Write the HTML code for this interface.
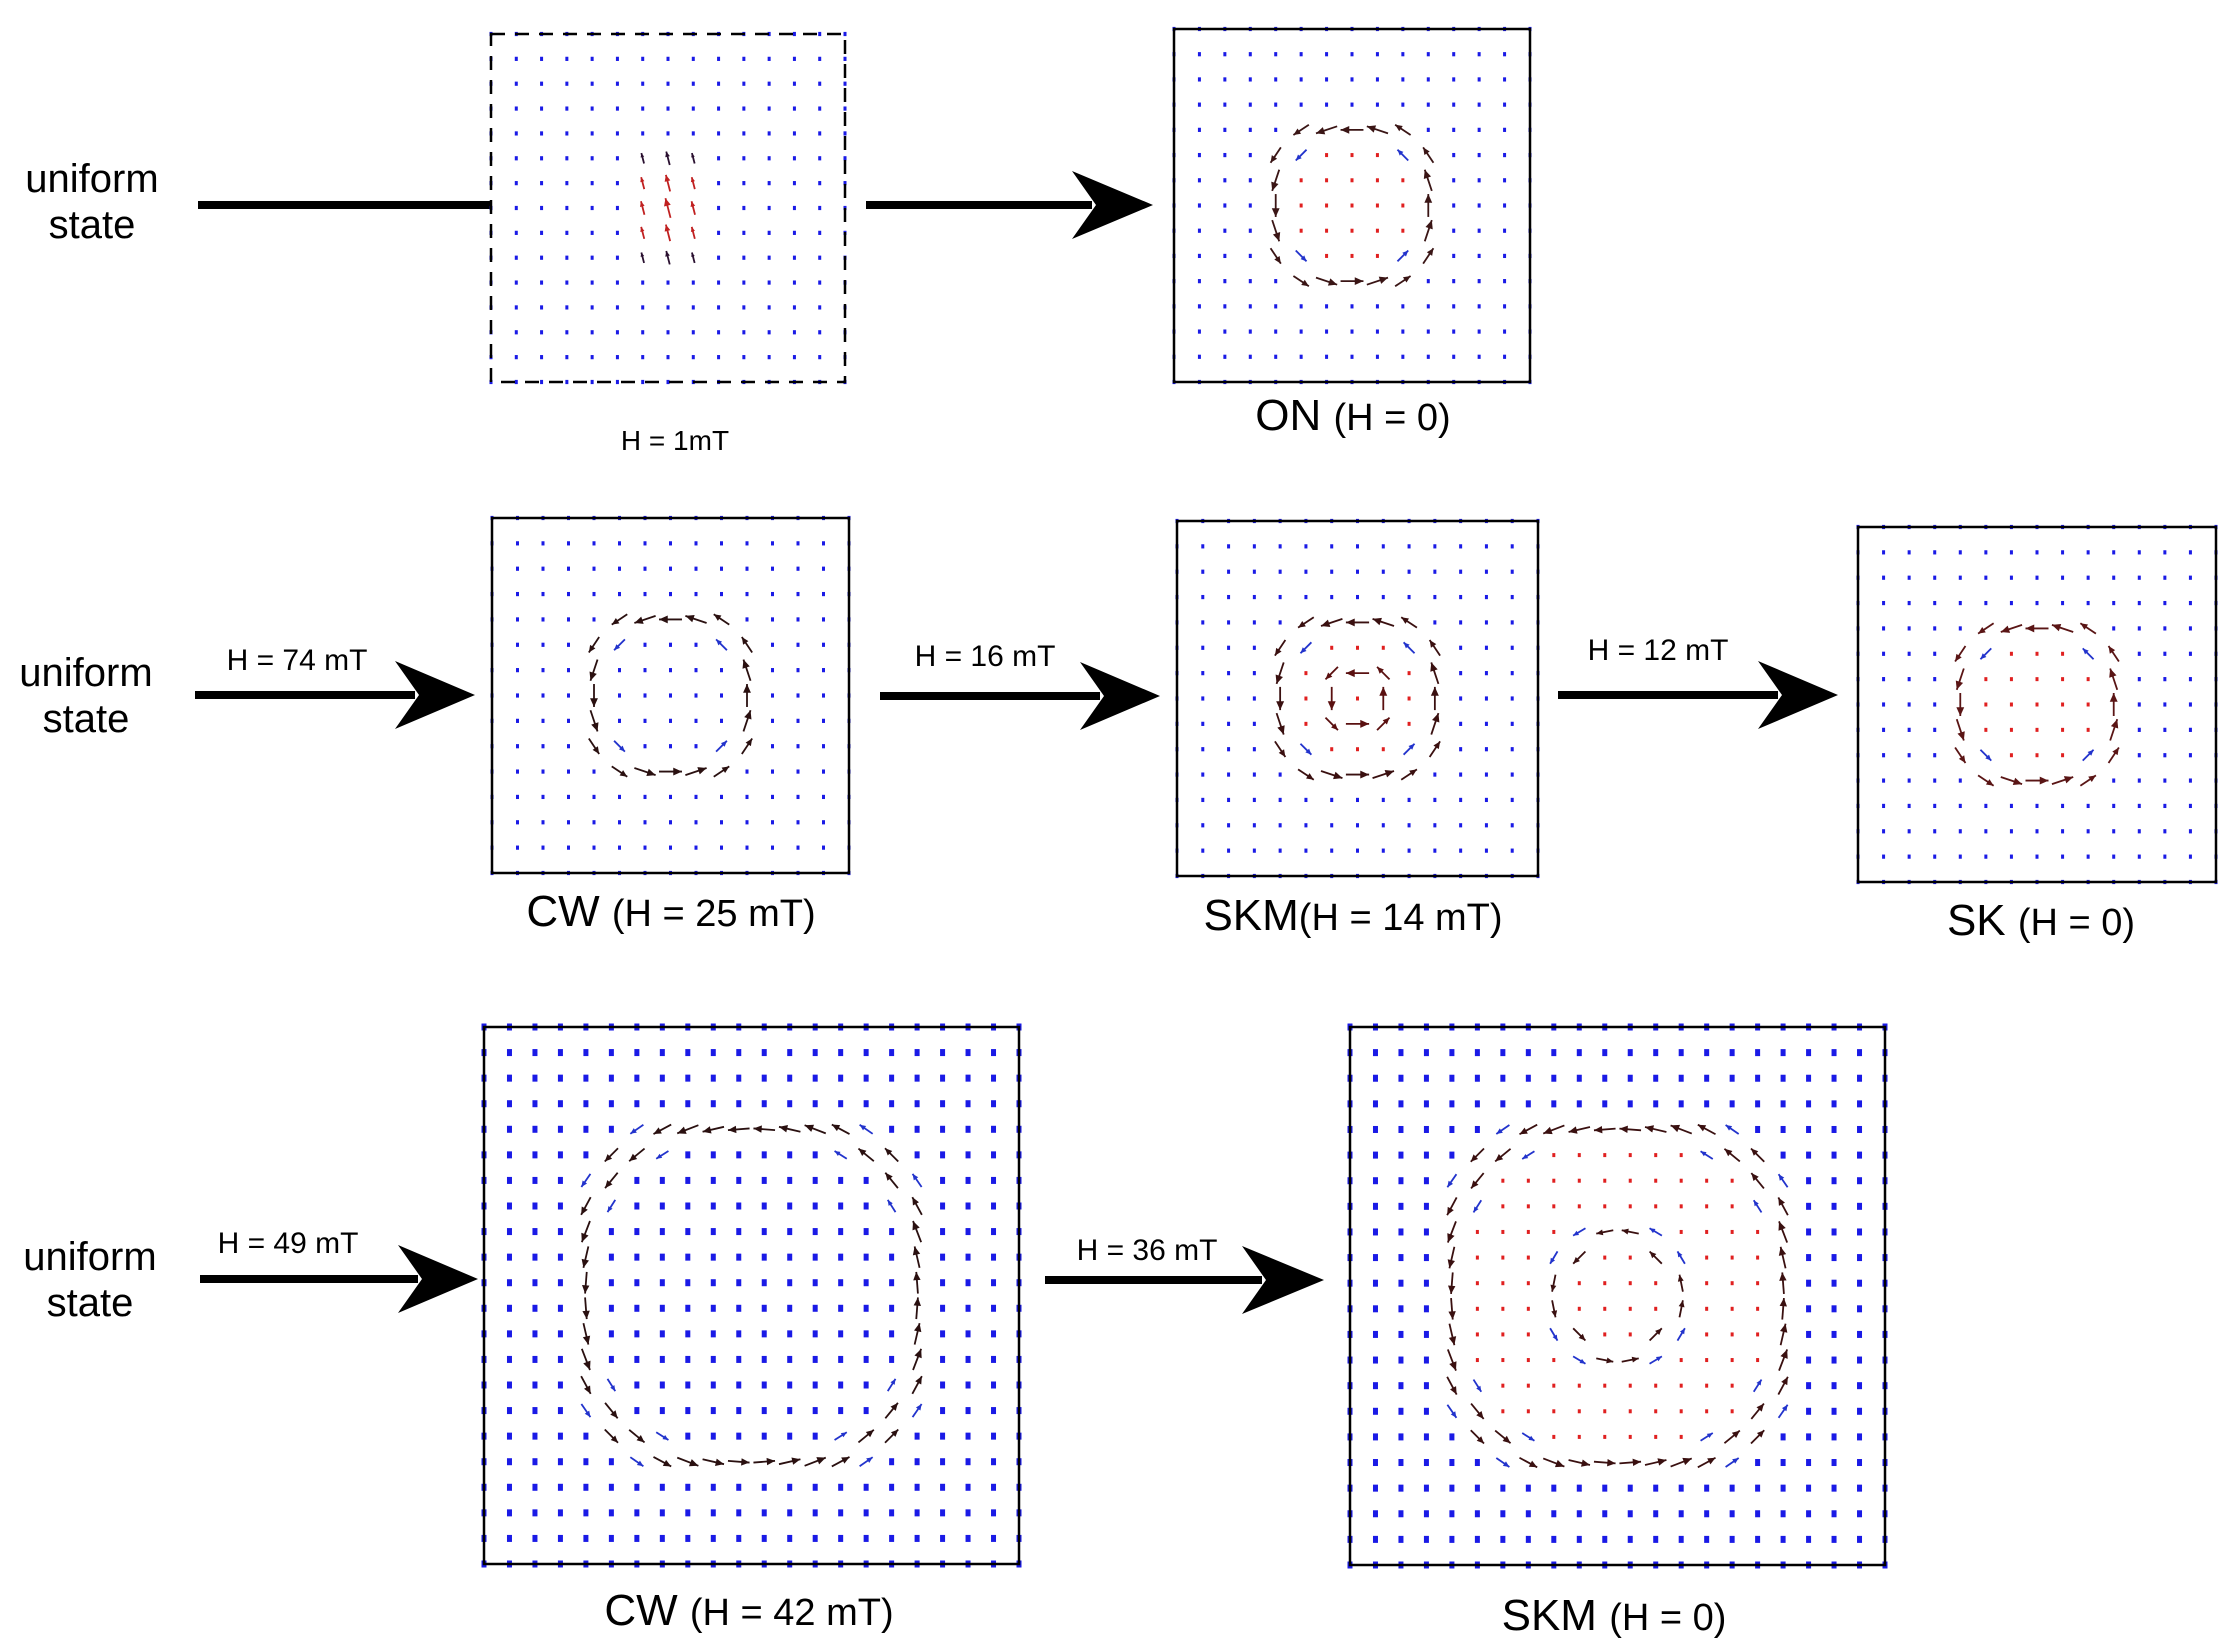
<!DOCTYPE html>
<html><head><meta charset="utf-8">
<style>
html,body{margin:0;padding:0;background:#fff;}
body{width:2226px;height:1641px;overflow:hidden;position:relative;font-family:"Liberation Sans",sans-serif;}
svg{position:absolute;left:0;top:0;}
</style></head>
<body>
<svg id="s" width="2226" height="1641" viewBox="0 0 2226 1641" xmlns="http://www.w3.org/2000/svg" font-family="Liberation Sans, sans-serif">
<g id="g"></g>
<g fill="#000" text-anchor="middle">
<text x="92" y="192" font-size="40">uniform</text>
<text x="92" y="238" font-size="40">state</text>
<text x="675" y="450" font-size="28">H = 1mT</text>
<text x="1353" y="430" font-size="44">ON <tspan font-size="38">(H = 0)</tspan></text>

<text x="86" y="686" font-size="40">uniform</text>
<text x="86" y="732" font-size="40">state</text>
<text x="297" y="670" font-size="30">H = 74 mT</text>
<text x="671" y="926" font-size="44">CW <tspan font-size="38">(H = 25 mT)</tspan></text>
<text x="985" y="666" font-size="30">H = 16 mT</text>
<text x="1353" y="930" font-size="44">SKM<tspan font-size="38">(H = 14 mT)</tspan></text>
<text x="1658" y="660" font-size="30">H = 12 mT</text>
<text x="2041" y="935" font-size="44">SK <tspan font-size="38">(H = 0)</tspan></text>

<text x="90" y="1270" font-size="40">uniform</text>
<text x="90" y="1316" font-size="40">state</text>
<text x="288" y="1253" font-size="30">H = 49 mT</text>
<text x="749" y="1625" font-size="44">CW <tspan font-size="38">(H = 42 mT)</tspan></text>
<text x="1147" y="1260" font-size="30">H = 36 mT</text>
<text x="1614" y="1630" font-size="44">SKM <tspan font-size="38">(H = 0)</tspan></text>
</g>
</svg>
<script>
(function(){
var NS="http://www.w3.org/2000/svg";
var g=document.getElementById("g");
function el(t,a){var e=document.createElementNS(NS,t);for(var k in a)e.setAttribute(k,a[k]);g.appendChild(e);return e;}
function bigArrow(x1,x2,y,hx){
  el("rect",{x:x1,y:y-4,width:hx-x1+10,height:8,fill:"#000"});
  el("polygon",{points:(hx-10)+","+(y-34)+" "+x2+","+y+" "+(hx-10)+","+(y+34)+" "+(hx+14)+","+y,fill:"#000"});
}
function arrow(x,y,dx,dy,len,col,w){
  var x1=x-dx*len/2,y1=y-dy*len/2,x2=x+dx*len/2,y2=y+dy*len/2;
  el("line",{x1:x1,y1:y1,x2:x2,y2:y2,stroke:col,"stroke-width":w});
  var h=len*0.38,px=-dy,py=dx;
  el("polygon",{points:x2+","+y2+" "+(x2-dx*h+px*h*0.45)+","+(y2-dy*h+py*h*0.45)+" "+(x2-dx*h-px*h*0.45)+","+(y2-dy*h-py*h*0.45),fill:col});
}
function box(x,y,w,h,n,o){
  var sx=w/n,sy=h/n,cx=x+w*(o.cx||0.5),cy=y+h*(o.cy||0.5);
  for(var i=0;i<=n;i++)for(var j=0;j<=n;j++){
    var px=x+i*sx,py=y+j*sy;
    var dx=(px-cx)/sx,dy=(py-cy)/sy;
    var d=Math.pow(Math.pow(Math.abs(dx),3)+Math.pow(Math.abs(dy),3),1/3);
    var done=false;
    if(o.fn){done=o.fn(px,py,dx,dy,d,sx);}
    if(!done && o.rings){
      for(var k=0;k<o.rings.length;k++){var R=o.rings[k];
        if(Math.abs(d-R.r)<R.hw){
          var f=1-Math.abs(d-R.r)/R.hw;
          if(f<0.3)break;
          var a=Math.atan2(dy,dx);var tx=Math.sin(a),ty=-Math.cos(a);
          arrow(px,py,tx,ty,sx*(0.4+0.5*f),f>0.5?(R.col||"#2a1010"):"#2233cc",1.8);
          done=true;break;}
      }
    }
    if(!done && o.red && d<o.red){
      el("rect",{x:px-1.5,y:py-2,width:3,height:4,fill:"#e02020"});done=true;}
    if(!done){var s=o.dot||3;el("rect",{x:px-s/2,y:py-s*0.7,width:s,height:s*1.4,fill:"#1a1ae6"});}
  }
  var r={x:x,y:y,width:w,height:h,fill:"none",stroke:"#000","stroke-width":o.sw||2.5};
  if(o.dash)r["stroke-dasharray"]="14,10";
  el("rect",r);
}
el("rect",{x:198,y:201,width:292,height:8,fill:"#000"});
box(491,34,354,348,14,{dash:1,fn:function(px,py,dx,dy,d,s){
  if(Math.abs(dx)<1.6&&Math.abs(dy)<2.6){var f=1-Math.abs(dx)/2;
    var col=(Math.abs(dy)<1.1&&Math.abs(dx)<1.1)?"#c02020":(f>0.5?"#2a1030":"#2233cc");
    arrow(px,py,-0.25,-0.97,s*(0.3+0.5*f*(1-Math.abs(dy)/4)),col,1.8);return true;}
  return false;}});
bigArrow(866,1153,205,1082);
box(1174,29,356,353,14,{rings:[{r:3,hw:0.8,col:"#3a1515"}],red:2.5});
bigArrow(195,475,695,405);
box(492,518,357,355,14,{rings:[{r:3,hw:0.8}]});
bigArrow(880,1160,696,1090);
box(1177,521,361,355,14,{rings:[{r:3,hw:0.8,col:"#3a1010"},{r:1,hw:0.6,col:"#5a1010"}],red:2.5});
bigArrow(1558,1838,695,1768);
box(1858,527,358,355,14,{rings:[{r:3,hw:0.8,col:"#5a1515"}],red:2.5});
bigArrow(200,478,1279,408);
box(484,1027,535,537,21,{dot:5,rings:[{r:6.6,hw:1.0}]});
bigArrow(1045,1324,1280,1252);
box(1350,1027,535,538,21,{dot:5,rings:[{r:6.6,hw:1.0,col:"#3a1010"},{r:2.2,hw:0.7,col:"#3a1010"}],red:5.8});
})();
</script>
</body></html>
